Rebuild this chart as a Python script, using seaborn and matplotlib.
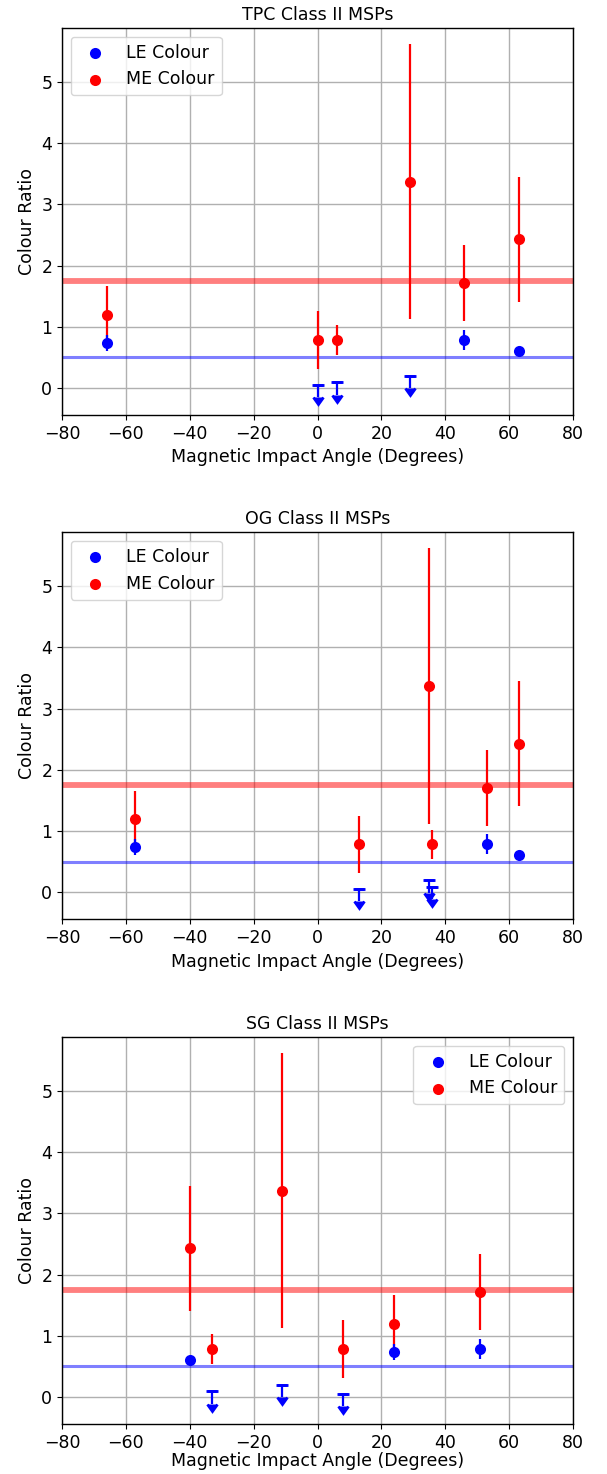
import matplotlib
matplotlib.use("Agg")
import matplotlib.pyplot as plt
import seaborn as sns
import numpy as np

# ---- data (6 Class II MSPs, three emission models) ----
titles = ["TPC Class II MSPs", "OG Class II MSPs", "SG Class II MSPs"]
angles_tpc = [-66, 0, 6, 29, 46, 63]
angles_og = [-57, 13, 36, 35, 53, 63]
angles_sg = [24, 8, -33, -11, 51, -40]

me_colour = [1.19, 0.785, 0.785, 3.37, 1.71, 2.43]
me_err = [0.47, 0.47, 0.24, 2.25, 0.62, 1.02]

# LE colour: detected values (nan = upper limit only)
le_colour = [0.736, np.nan, np.nan, np.nan, 0.785, 0.61]
le_err = [0.13, np.nan, np.nan, np.nan, 0.16, 0.04]
# LE upper limits
le_upper = [np.nan, 0.054, 0.093, 0.196, np.nan, np.nan]
le_upper_err = [0.2, 0.2, 0.2, 0.2, 0.2, 0.2]

me_line = 1.75
le_line = 0.5

xticks = [-80, -60, -40, -20, 0, 20, 40, 60, 80]
yticks = [0, 1, 2, 3, 4, 5]
legend_locs = ["upper left", "upper left", "upper right"]

FS = 12.5
plt.rcParams.update({
    "font.family": "DejaVu Sans",
    "font.size": FS,
    "axes.titlesize": FS,
    "axes.labelsize": FS,
    "xtick.labelsize": FS,
    "ytick.labelsize": FS,
    "legend.fontsize": FS,
    "axes.edgecolor": "black",
    "axes.linewidth": 1.0,
    "grid.color": "#b0b0b0",
    "grid.linewidth": 1.0,
})

W, H = 607, 1474
fig = plt.figure(figsize=(W / 100, H / 100), dpi=100)

left = 62 / W
width = 511 / W
height = 387 / H
bottoms_px = [415, 919.3, 1424.0]
labelpads = [4, 4, 0.3]

all_angles = [angles_tpc, angles_og, angles_sg]

for i in range(3):
    ax = fig.add_axes([left, 1 - bottoms_px[i] / H, width, height])
    ang = np.array(all_angles[i], dtype=float)
    mec = np.array(me_colour)
    mee = np.array(me_err)
    lec = np.array(le_colour)
    lee = np.array(le_err)
    leu = np.array(le_upper)
    leue = np.array(le_upper_err)

    ax.axhline(me_line, color="red", alpha=0.5, lw=4.2, zorder=1.8)
    ax.axhline(le_line, color="blue", alpha=0.5, lw=2.2, zorder=1.8)

    # ME error bars and points
    ax.errorbar(ang, mec, yerr=mee, fmt="none", ecolor="red", elinewidth=1.6, zorder=2)
    sns.scatterplot(x=ang, y=mec, color="red", s=64, linewidth=0, ax=ax,
                    label="ME Colour", zorder=3)

    # LE detections
    det = ~np.isnan(lec)
    ax.errorbar(ang[det], lec[det], yerr=lee[det], fmt="none", ecolor="blue",
                elinewidth=1.6, zorder=2.5)
    sns.scatterplot(x=ang[det], y=lec[det], color="blue", s=64, linewidth=0, ax=ax,
                    label="LE Colour", zorder=3.5)

    # LE upper limits
    ul = ~np.isnan(leu)
    ax.errorbar(ang[ul], leu[ul], yerr=leue[ul], uplims=True, fmt="_", ms=9.3, mew=2,
                color="blue", ecolor="blue", elinewidth=1.6, capsize=3.3, capthick=1.6,
                zorder=2.5)

    ax.set_xlim(-80, 80)
    ax.set_ylim(-0.44, 5.88)
    ax.set_xticks(xticks)
    ax.set_yticks(yticks)
    ax.grid(True, zorder=0)
    ax.set_axisbelow(True)
    ax.set_title(titles[i], fontsize=FS, pad=6)
    ax.set_xlabel("Magnetic Impact Angle (Degrees)", labelpad=labelpads[i])
    ax.set_ylabel("Colour Ratio")

    handles, labels = ax.get_legend_handles_labels()
    order = [labels.index("LE Colour"), labels.index("ME Colour")]
    ax.legend([handles[k] for k in order], [labels[k] for k in order],
              loc=legend_locs[i])

fig.savefig("out.png", dpi=100)
